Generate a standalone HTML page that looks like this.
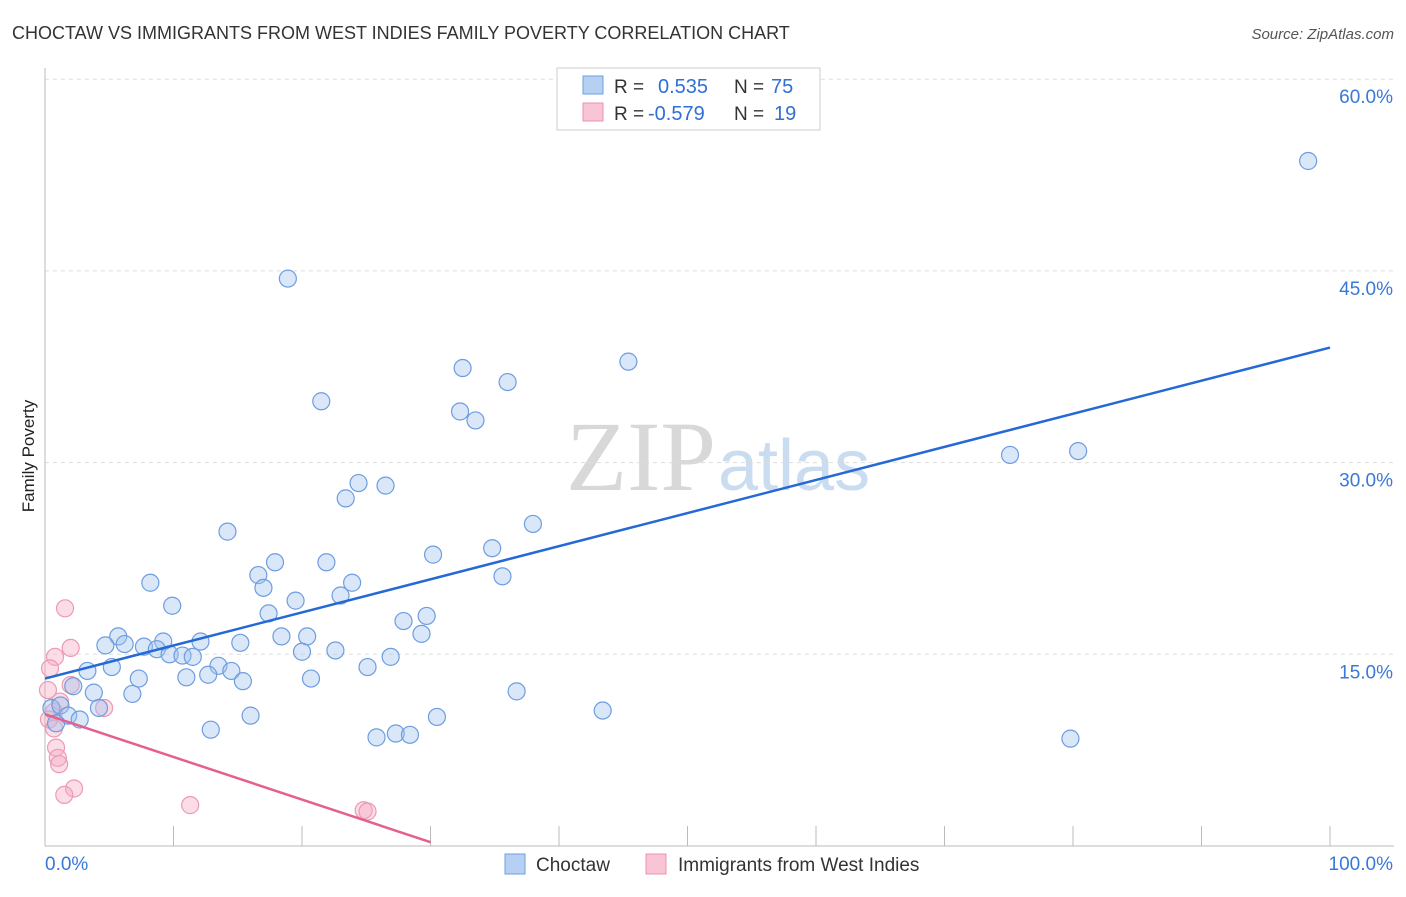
<!DOCTYPE html>
<html><head><meta charset="utf-8"><style>
body{margin:0;background:#fff;font-family:"Liberation Sans",sans-serif;}
svg text{font-family:"Liberation Sans",sans-serif;}
</style></head><body>
<svg id="chart" width="1406" height="892">
<text x="12" y="39" font-size="18" fill="#333">CHOCTAW VS IMMIGRANTS FROM WEST INDIES FAMILY POVERTY CORRELATION CHART</text>
<text x="1394" y="39" font-size="15" fill="#555" font-style="italic" text-anchor="end">Source: ZipAtlas.com</text>
<text x="34" y="456" font-size="17" fill="#222" transform="rotate(-90 34 456)" text-anchor="middle">Family Poverty</text>
<text x="716" y="490" font-size="100" fill="#d8d8d8" text-anchor="end" style="font-family:'Liberation Serif',serif">ZIP</text>
<text x="718" y="490" font-size="72" fill="#c9dcf0">atlas</text>
<g id="grid"></g><g id="axes"></g><g id="marks"></g>
<g>
<rect x="557" y="68" width="263" height="62" fill="#fff" stroke="#ccc"/>
<rect x="583" y="76" width="20" height="18" fill="#b5d0f3" stroke="#6f9fdf"/>
<rect x="583" y="103" width="20" height="18" fill="#f9c5d4" stroke="#eb94ae"/>
<text x="614" y="93" font-size="19" fill="#333">R =</text><text x="658" y="93" font-size="20" fill="#2f6fd6">0.535</text>
<text x="734" y="93" font-size="19" fill="#333">N =</text><text x="771" y="93" font-size="20" fill="#2f6fd6">75</text>
<text x="614" y="120" font-size="19" fill="#333">R =</text><text x="648" y="120" font-size="20" fill="#2f6fd6">-0.579</text>
<text x="734" y="120" font-size="19" fill="#333">N =</text><text x="774" y="120" font-size="20" fill="#2f6fd6">19</text>
</g>
<g>
<rect x="505" y="854" width="20" height="20" fill="#b5d0f3" stroke="#6f9fdf"/>
<text x="536" y="871" font-size="19" fill="#333">Choctaw</text>
<rect x="646" y="854" width="20" height="20" fill="#f9c5d4" stroke="#eb94ae"/>
<text x="678" y="871" font-size="19" fill="#333">Immigrants from West Indies</text>
</g>
</svg>
<script>
const yTicks=[15,30,45,60];
const yTickLabels=["15.0%","30.0%","45.0%","60.0%"];
const xTicks=[0,10,20,30,40,50,60,70,80,90,100];
const blueX=[98.3,18.9,45.4,32.5,36.0,21.5,32.3,33.5,80.4,75.1,24.4,26.5,23.4,37.97,14.2,30.2,34.8,17.9,21.9,16.6,8.2,23.9,35.6,17.0,23.0,19.5,9.9,17.4,27.9,29.7,29.3,5.7,4.7,6.2,7.7,9.2,8.7,12.1,15.2,18.4,20.4,9.7,10.7,11.5,20.0,22.6,26.9,3.3,5.2,13.5,14.5,25.1,7.3,11.0,12.7,15.4,20.7,2.2,3.8,6.8,36.7,16.0,4.2,43.4,0.5,1.2,1.8,2.7,30.5,12.9,25.8,27.3,28.4,79.8,0.86];
const blueY=[53.6,44.4,37.9,37.4,36.3,34.8,34.0,33.3,30.9,30.6,28.4,28.2,27.2,25.2,24.6,22.8,23.3,22.2,22.2,21.2,20.6,20.6,21.1,20.2,19.6,19.2,18.8,18.2,17.6,18.0,16.6,16.4,15.7,15.8,15.6,16.0,15.4,16.0,15.9,16.4,16.4,15.0,14.9,14.8,15.2,15.3,14.8,13.7,14.0,14.1,13.7,14.0,13.1,13.2,13.4,12.9,13.1,12.5,12.0,11.9,12.1,10.2,10.8,10.6,10.8,11.0,10.2,9.9,10.1,9.1,8.5,8.8,8.7,8.4,9.6];
const pinkX=[1.56,2.0,0.78,0.39,2.0,0.23,4.6,0.7,0.31,0.7,0.86,1.0,1.1,2.26,1.5,11.3,24.8,25.1,1.17];
const pinkY=[18.6,15.5,14.8,13.9,12.6,12.2,10.8,10.5,9.9,9.2,7.7,6.9,6.4,4.5,4.0,3.2,2.8,2.7,11.3];
const blueLine=[[0,13.1],[100,39.0]];
const pinkLine=[[0,10.3],[30,0.3]];
const X=v=>45+v*12.85, Y=v=>846-v*12.78;
const NS="http://www.w3.org/2000/svg";
function mk(t,a,p){const e=document.createElementNS(NS,t);for(const k in a)e.setAttribute(k,a[k]);p.appendChild(e);return e;}
const grid=document.getElementById('grid'),axes=document.getElementById('axes'),marks=document.getElementById('marks');
yTicks.forEach((v,i)=>{
 const l=mk('line',{x1:45,x2:1394,y1:Y(v),y2:Y(v),stroke:'#ddd','stroke-dasharray':'4,4'},grid);
 
 
 const t=mk('text',{x:1393,y:Y(v)+24,'font-size':19,fill:'#3a78d8','text-anchor':'end'},axes);
 t.textContent=yTickLabels[i];
 
 
});
const ya=mk('line',{x1:45,x2:45,y1:68,y2:846,stroke:'#bbb'},axes);


const xa=mk('line',{x1:45,x2:1394,y1:846,y2:846,stroke:'#bbb'},axes);


xTicks.forEach(v=>{const t=mk('line',{x1:X(v),x2:X(v),y1:826,y2:846,stroke:'#bbb'},axes);
 
 });
const t0=mk('text',{x:45,y:870,'font-size':19,fill:'#3a78d8'},axes);t0.textContent='0.0%';


const t1=mk('text',{x:1393,y:870,'font-size':19,fill:'#3a78d8','text-anchor':'end'},axes);t1.textContent='100.0%';


pinkX.forEach((x,i)=>{const c=mk('circle',{cx:X(x),cy:Y(pinkY[i]),r:8.5,fill:'rgba(245,170,195,0.4)',stroke:'#ec9ab3','stroke-width':1.2},marks);
 
 });
blueX.forEach((x,i)=>{const c=mk('circle',{cx:X(x),cy:Y(blueY[i]),r:8.5,fill:'rgba(160,195,240,0.4)',stroke:'#6d9de0','stroke-width':1.2},marks);
 
 });
const bl=mk('line',{x1:X(blueLine[0][0]),y1:Y(blueLine[0][1]),x2:X(blueLine[1][0]),y2:Y(blueLine[1][1]),stroke:'#2469d6','stroke-width':2.5},marks);


const pl=mk('line',{x1:X(pinkLine[0][0]),y1:Y(pinkLine[0][1]),x2:X(pinkLine[1][0]),y2:Y(pinkLine[1][1]),stroke:'#e4608f','stroke-width':2.5},marks);


</script>
</body></html>
